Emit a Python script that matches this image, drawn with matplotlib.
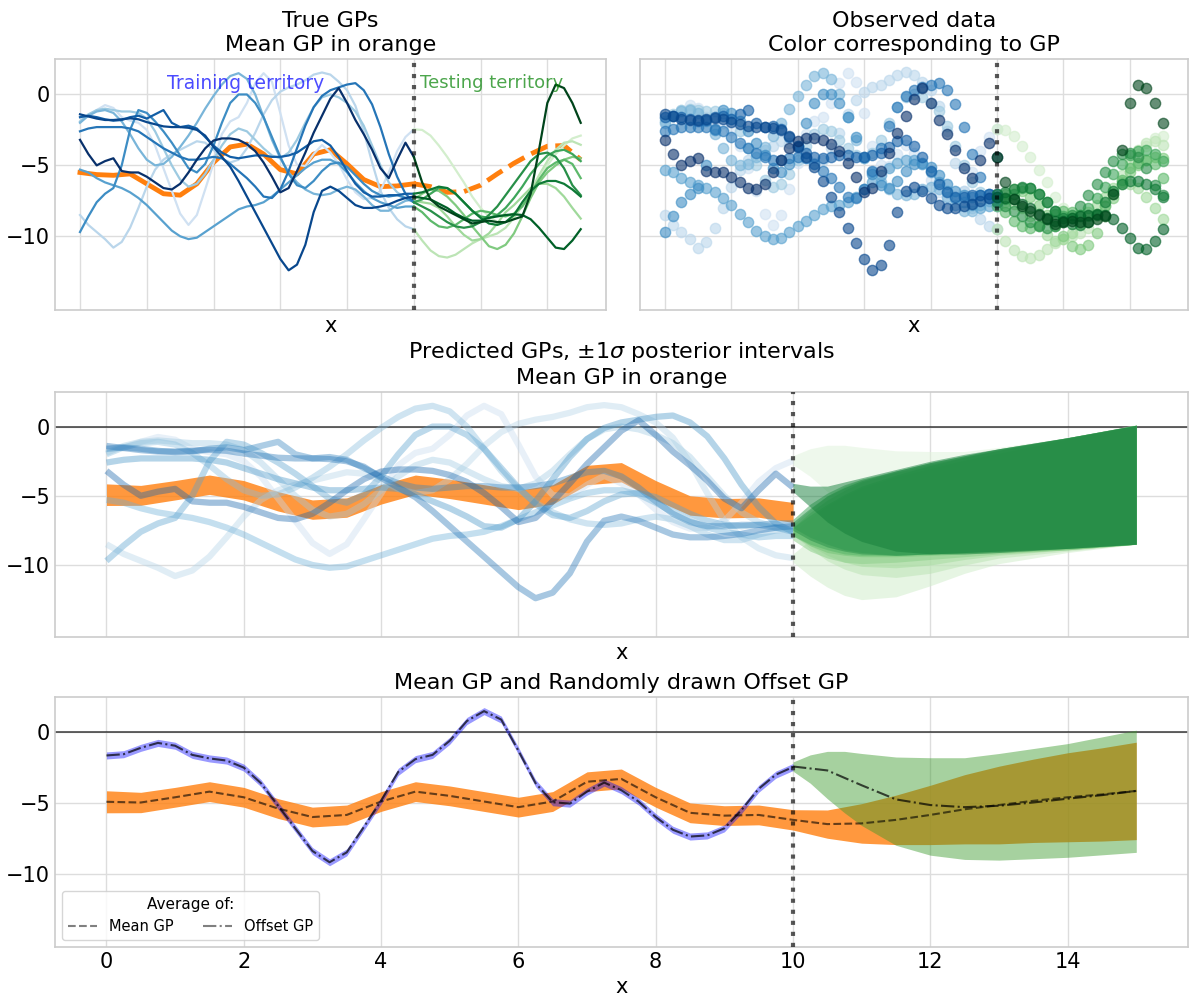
import numpy as np
import matplotlib
matplotlib.use("Agg")
import matplotlib.pyplot as plt
from matplotlib.lines import Line2D

# ---------------- data ----------------
x_train = np.arange(0, 10.001, 0.25)      # 41 sample positions, training territory
x_test = np.arange(10, 15.001, 0.25)      # 21 sample positions, testing territory
x_mean = np.arange(0, 15.001, 0.5)        # 31 sample positions for mean GP

# true GPs in training territory (index 0 = lightest, 9 = darkest)
gp0_train = [-1.64, -1.55, -1.1, -0.75, -0.95, -1.6, -1.85, -2.0, -2.5, -3.6, -5.2, -6.8, -8.4, -9.2, -8.5, -6.7,
             -4.85, -2.8, -1.9, -1.6, -0.6, 0.8, 1.5, 0.9, -1.3, -3.6, -4.95, -5.05, -4.2, -3.56, -4.1, -4.9,
             -6.0, -6.9, -7.38, -7.3, -6.8, -5.5, -4.0, -3.0, -2.46]
gp1_train = [-8.5, -9.2, -9.7, -10.2, -10.8, -10.4, -9.4, -8.0, -6.5, -5.3, -4.6, -4.2, -3.9, -3.6, -3.3, -3.4,
             -3.9, -4.5, -4.8, -4.6, -3.8, -2.7, -1.4, -0.4, 0.2, 0.5, 0.7, 1.0, 1.4, 1.55, 1.4, 0.9, 0.3,
             -0.8, -2.6, -4.8, -6.8, -8.0, -8.8, -9.3, -9.5]
gp2_train = [-1.9, -1.4, -1.1, -1.0, -1.1, -1.2, -1.2, -1.3, -1.7, -2.6, -3.8, -5.0, -6.0, -6.5, -6.3, -5.6,
             -4.6, -3.6, -2.8, -2.4, -2.6, -3.2, -3.8, -4.3, -4.5, -4.1, -3.2, -2.0, -0.9, -0.2, 0.0, -0.2,
             -0.6, -1.2, -2.2, -3.6, -5.0, -6.2, -6.9, -7.3, -7.5]
gp3_train = [-2.0, -1.5, -1.2, -1.1, -1.3, -1.9, -2.8, -3.8, -4.6, -5.0, -4.9, -4.4, -3.7, -2.9, -2.0, -1.0,
             -0.1, 0.7, 1.3, 1.5, 1.1, 0.0, -1.6, -3.2, -4.5, -5.5, -6.2, -6.7, -7.0, -7.1, -7.0, -6.7,
             -6.5, -6.7, -7.2, -7.8, -8.2, -8.2, -7.8, -7.5, -7.4]
gp4_train = [-5.3, -5.5, -5.9, -6.2, -6.4, -6.6, -6.9, -7.3, -7.8, -8.4, -9.0, -9.6, -10.0, -10.2, -10.1, -9.7,
             -9.3, -8.9, -8.5, -8.1, -7.9, -7.8, -7.6, -7.2, -6.7, -6.2, -5.7, -5.2, -4.8, -4.6, -4.6, -4.9,
             -5.5, -6.2, -6.8, -7.3, -7.6, -7.8, -8.0, -7.9, -7.9]
gp5_train = [-9.7, -8.6, -7.6, -7.0, -6.6, -5.0, -2.5, -1.1, -1.3, -1.9, -2.6, -3.4, -4.3, -5.2, -5.5, -4.9,
             -3.6, -2.0, -0.6, 0.0, 0.0, -0.6, -1.6, -3.0, -4.4, -5.6, -6.4, -6.6, -6.1, -5.4, -4.9, -4.8,
             -5.1, -5.7, -6.3, -6.8, -7.1, -7.2, -7.1, -7.3, -7.6]
gp6_train = [-2.6, -2.4, -2.3, -2.3, -2.3, -2.3, -2.4, -2.6, -3.0, -3.4, -3.8, -4.1, -4.4, -4.6, -4.6, -4.5,
             -4.4, -4.5, -4.9, -5.4, -5.9, -6.5, -7.2, -7.3, -6.7, -5.4, -3.8, -2.2, -0.9, -0.1, 0.3, 0.5,
             0.7, 0.8, 0.3, -0.7, -2.3, -4.2, -5.8, -7.0, -7.6]
gp7_train = [-1.6, -1.5, -1.6, -1.75, -1.85, -1.8, -1.6, -1.5, -1.7, -1.4, -1.1, -2.0, -2.3, -2.2, -2.4, -3.0,
             -3.6, -4.1, -4.4, -4.5, -4.4, -4.3, -4.3, -4.4, -4.4, -4.3, -4.1, -3.7, -3.3, -3.2, -3.6, -4.4,
             -5.4, -6.3, -6.9, -7.2, -7.2, -7.1, -7.1, -7.0, -7.0]
gp8_train = [-1.4, -1.55, -1.7, -1.8, -1.8, -1.75, -1.68, -1.75, -1.95, -2.1, -2.25, -2.3, -2.3, -2.35, -2.5, -2.9,
             -3.7, -4.4, -5.1, -6.1, -7.2, -8.3, -9.4, -10.5, -11.6, -12.4, -12.0, -10.6, -8.3, -6.8, -6.5, -6.8,
             -7.3, -7.8, -8.0, -8.0, -7.9, -7.75, -7.5, -7.3, -7.2]
gp9_train = [-3.2, -4.2, -5.0, -4.7, -4.5, -5.4, -5.5, -5.5, -5.8, -6.2, -6.6, -6.7, -6.3, -5.5, -4.6, -3.8,
             -3.25, -3.1, -3.1, -3.2, -3.5, -4.0, -4.8, -5.8, -6.9, -6.6, -5.4, -4.1, -2.7, -1.5, -0.3, 0.45,
             -0.6, -1.8, -2.8, -3.9, -5.2, -5.9, -4.6, -3.4, -4.4]

# true GPs in testing territory
gp0_test = [-2.46, -2.5, -2.9, -3.6, -4.4, -5.3, -6.2, -7.2, -8.0, -8.6, -9.0, -9.0, -8.6, -7.9, -7.0, -6.0, -5.0, -4.2, -3.6, -3.1, -2.9]
gp1_test = [-9.5, -10.3, -11.0, -11.4, -11.5, -11.3, -10.9, -10.5, -10.2, -10.0, -9.8, -9.4, -8.7, -7.8, -6.8, -5.7, -4.7, -3.9, -3.4, -3.3, -3.55]
gp2_test = [-7.5, -7.6, -7.7, -8.0, -8.6, -9.3, -9.9, -10.3, -10.2, -9.8, -9.1, -8.3, -7.8, -7.2, -6.6, -6.3, -6.3, -6.6, -7.2, -8.0, -8.75]
gp3_test = [-7.4, -7.0, -6.7, -6.8, -7.2, -7.8, -8.5, -9.3, -10.0, -10.7, -10.9, -10.6, -9.8, -8.6, -7.3, -6.2, -5.5, -5.0, -4.6, -4.4, -4.5]
gp4_test = [-7.9, -8.3, -8.9, -9.3, -9.4, -9.2, -8.8, -8.4, -8.2, -8.3, -8.5, -8.6, -8.4, -7.9, -7.0, -6.0, -5.2, -4.8, -4.6, -4.9, -5.9]
gp5_test = [-7.6, -7.4, -7.0, -6.6, -6.6, -7.0, -7.6, -8.2, -8.6, -8.7, -8.5, -8.0, -7.3, -6.5, -5.6, -4.9, -4.3, -4.0, -3.9, -4.2, -4.7]
gp6_test = [-7.6, -7.9, -8.2, -8.6, -9.0, -9.3, -9.4, -9.3, -9.0, -8.5, -7.9, -7.1, -6.3, -5.5, -4.7, -4.2, -4.1, -4.4, -5.2, -6.4, -7.1]
gp7_test = [-7.0, -6.9, -6.7, -6.5, -6.6, -7.0, -7.6, -8.2, -8.7, -9.1, -9.2, -9.0, -8.5, -7.6, -6.8, -6.3, -6.1, -6.1, -6.3, -6.7, -7.2]
gp8_test = [-7.2, -7.3, -7.4, -7.7, -8.0, -8.4, -8.7, -8.9, -8.9, -8.7, -8.6, -8.5, -8.45, -8.5, -8.8, -9.4, -10.1, -10.8, -10.9, -10.3, -9.5]
gp9_test = [-4.4, -6.2, -7.4, -7.9, -8.2, -8.5, -8.8, -9.1, -9.0, -8.9, -9.0, -9.0, -8.8, -8.6, -7.0, -3.9, -0.6, 0.7, 0.45, -0.6, -2.0]

# true mean GP
mean_true = [-5.5, -5.65, -5.7, -5.6, -6.3, -7.0, -7.1, -6.3, -4.8, -3.7, -3.5, -4.2, -5.3, -5.6, -4.2, -3.9,
             -4.9, -6.0, -6.5, -6.45, -6.3, -6.5, -6.9, -6.85, -6.4, -5.6, -4.85, -4.2, -3.65, -3.6, -4.6]

# posterior mean GP (average) and its 1-sigma half width
mean_post = [-4.92, -4.97, -4.6, -4.2, -4.6, -5.4, -6.0, -5.85, -4.9, -4.2, -4.5, -4.9, -5.3, -4.9, -3.5, -3.3,
             -4.6, -5.7, -5.9, -5.85, -6.2, -6.5, -6.45, -6.2, -5.85, -5.45, -5.15, -4.85, -4.6, -4.4, -4.15]
mean_sd = [0.78, 0.72, 0.7, 0.7, 0.7, 0.7, 0.7, 0.7, 0.7, 0.7, 0.7, 0.7, 0.7, 0.7, 0.7, 0.7,
           0.7, 0.7, 0.7, 0.7, 0.72, 1.0, 1.4, 1.75, 2.1, 2.45, 2.75, 2.95, 3.15, 3.3, 3.45]

# posterior 1-sigma intervals of the GPs in testing territory
x_band = [10, 10.25, 10.5, 10.75, 11, 11.5, 12, 12.5, 13, 14, 15]
band0_lo = [-2.75, -3.6, -4.7, -5.7, -6.6, -8.0, -8.7, -9.0, -9.05, -8.85, -8.5]
band0_hi = [-2.1, -1.6, -1.35, -1.35, -1.5, -1.75, -1.8, -1.8, -1.5, -0.8, 0.15]
band1_lo = [-9.8, -10.8, -11.6, -12.2, -12.5, -12.3, -11.5, -10.6, -9.9, -9.1, -8.5]
band1_hi = [-9.2, -8.2, -7.2, -6.3, -5.5, -4.3, -3.5, -2.8, -2.2, -1.0, 0.1]
band2_lo = [-7.8, -8.8, -9.7, -10.3, -10.7, -10.9, -10.6, -10.0, -9.5, -9.0, -8.5]
band2_hi = [-7.2, -6.4, -5.6, -5.0, -4.5, -3.8, -3.1, -2.5, -2.0, -0.9, 0.1]
band3_lo = [-7.7, -8.6, -9.3, -9.8, -10.1, -10.2, -10.0, -9.6, -9.3, -8.9, -8.5]
band3_hi = [-7.1, -6.0, -5.0, -4.3, -3.8, -3.3, -2.9, -2.4, -1.9, -0.9, 0.1]
band4_lo = [-8.2, -9.0, -9.5, -9.8, -9.9, -9.8, -9.6, -9.4, -9.2, -8.9, -8.5]
band4_hi = [-7.6, -6.6, -5.7, -5.0, -4.4, -3.6, -3.0, -2.4, -1.9, -0.9, 0.1]
band5_lo = [-7.9, -8.6, -9.1, -9.3, -9.4, -9.4, -9.3, -9.2, -9.1, -8.9, -8.5]
band5_hi = [-7.3, -6.2, -5.3, -4.6, -4.0, -3.3, -2.7, -2.2, -1.7, -0.8, 0.1]
band6_lo = [-7.9, -8.5, -8.9, -9.2, -9.3, -9.3, -9.2, -9.1, -9.0, -8.8, -8.5]
band6_hi = [-7.3, -6.4, -5.6, -4.9, -4.3, -3.5, -2.8, -2.2, -1.7, -0.8, 0.1]
band7_lo = [-7.3, -8.0, -8.5, -8.9, -9.1, -9.3, -9.2, -9.1, -9.0, -8.8, -8.5]
band7_hi = [-6.7, -5.6, -4.8, -4.2, -3.8, -3.2, -2.6, -2.1, -1.6, -0.8, 0.1]
band8_lo = [-7.5, -8.2, -8.7, -9.0, -9.2, -9.3, -9.2, -9.1, -9.0, -8.8, -8.5]
band8_hi = [-6.9, -5.9, -5.0, -4.4, -3.9, -3.2, -2.6, -2.1, -1.6, -0.8, 0.1]
band9_lo = [-4.7, -5.8, -6.9, -7.7, -8.3, -9.0, -9.2, -9.2, -9.1, -8.8, -8.5]
band9_hi = [-4.1, -4.3, -4.3, -4.0, -3.7, -3.1, -2.5, -2.0, -1.6, -0.8, 0.1]

# randomly drawn offset GP (the lightest one), training interval half width
offset_sd = 0.25
x_off_test = [10, 10.5, 11, 11.5, 12, 12.5, 13, 13.5, 14, 14.5, 15]
offset_test = [-2.42, -2.7, -3.75, -4.75, -5.15, -5.3, -5.2, -4.97, -4.7, -4.45, -4.15]

train_gps = [gp0_train, gp1_train, gp2_train, gp3_train, gp4_train,
             gp5_train, gp6_train, gp7_train, gp8_train, gp9_train]
test_gps = [gp0_test, gp1_test, gp2_test, gp3_test, gp4_test,
            gp5_test, gp6_test, gp7_test, gp8_test, gp9_test]
bands_lo = [band0_lo, band1_lo, band2_lo, band3_lo, band4_lo,
            band5_lo, band6_lo, band7_lo, band8_lo, band9_lo]
bands_hi = [band0_hi, band1_hi, band2_hi, band3_hi, band4_hi,
            band5_hi, band6_hi, band7_hi, band8_hi, band9_hi]

split_x = 10

# ---------------- style ----------------
plt.rcParams.update({
    "font.family": ["DejaVu Sans"],
    "axes.edgecolor": "#cccccc",
    "axes.linewidth": 1.2,
    "axes.grid": True,
    "grid.color": "#dddddd",
    "grid.linewidth": 1.0,
    "axes.titlesize": 16,
    "axes.labelsize": 15,
    "xtick.labelsize": 15,
    "ytick.labelsize": 15,
    "xtick.major.size": 0,
    "ytick.major.size": 0,
    "axes.axisbelow": True,
    "axes.unicode_minus": True,
})

n = len(train_gps)
blues = plt.get_cmap("Blues")(np.linspace(0.2, 1.0, n))
greens = plt.get_cmap("Greens")(np.linspace(0.2, 1.0, n))
blues_pred = plt.get_cmap("Blues")(np.linspace(0.25, 0.8, n))
greens_pred = plt.get_cmap("Greens")(np.linspace(0.15, 0.8, n))
orange = "#ff7f0e"

fig = plt.figure(figsize=(12, 10.02), dpi=100)
ax_true = fig.add_axes([0.0458, 0.6906, 0.459, 0.2505])
ax_data = fig.add_axes([0.5333, 0.6906, 0.4567, 0.2505], sharex=ax_true, sharey=ax_true)
ax_pred = fig.add_axes([0.0458, 0.3643, 0.944, 0.2445], sharex=ax_true, sharey=ax_true)
ax_sub = fig.add_axes([0.0458, 0.0549, 0.944, 0.2495], sharex=ax_true, sharey=ax_true)

x_mean_arr = np.asarray(x_mean)
train_mask = x_mean_arr <= split_x
test_mask = x_mean_arr >= split_x
mean_true_arr = np.asarray(mean_true)
mean_post_arr = np.asarray(mean_post)
mean_sd_arr = np.asarray(mean_sd)

# ---- True GPs ----
ax = ax_true
ax.plot(x_mean_arr[train_mask], mean_true_arr[train_mask], color=orange, lw=3.5, zorder=2)
ax.plot(x_mean_arr[test_mask], mean_true_arr[test_mask], color=orange, lw=3.5, ls="--", zorder=2)
for i in range(n):
    ax.plot(x_train, train_gps[i], color=blues[i], lw=1.6, zorder=3)
    ax.plot(x_test, test_gps[i], color=greens[i], lw=1.6, zorder=3)
ax.axvline(split_x, color="k", alpha=0.65, ls=":", lw=3, zorder=5)
ax.text(2.6, 0.8, "Training territory", color="blue", alpha=0.7, fontsize=13.5, va="center")
ax.text(10.2, 0.8, "Testing territory", color="green", alpha=0.7, fontsize=13, va="center")
ax.set_title("True GPs\nMean GP in orange")
ax.set_xlabel("x")

# ---- Observed data ----
ax = ax_data
for i in range(n):
    ax.scatter(x_train, train_gps[i], color=blues[i], alpha=0.6, s=55, zorder=3)
    ax.scatter(x_test, test_gps[i], color=greens[i], alpha=0.6, s=55, zorder=3)
ax.axvline(split_x, color="k", alpha=0.65, ls=":", lw=3, zorder=5)
ax.set_title("Observed data\nColor corresponding to GP")
ax.set_xlabel("x")

# ---- Predicted GPs ----
ax = ax_pred
ax.axhline(0, color="k", lw=1.2, alpha=0.7, zorder=1)
ax.fill_between(x_mean_arr[train_mask], (mean_post_arr - mean_sd_arr)[train_mask],
                (mean_post_arr + mean_sd_arr)[train_mask], color=orange, alpha=0.8, lw=0, zorder=2)
for i in range(n):
    ax.plot(x_train, train_gps[i], color=blues_pred[i], lw=4.5, alpha=0.4, zorder=3,
            solid_capstyle="butt")
for i in range(n):
    ax.fill_between(x_band, bands_lo[i], bands_hi[i], color=greens_pred[i], alpha=0.5, lw=0, zorder=3)
ax.axvline(split_x, color="k", alpha=0.65, ls=":", lw=3, zorder=5)
ax.set_title("Predicted GPs, $\\pm 1\\sigma$ posterior intervals\nMean GP in orange")
ax.set_xlabel("x")

# ---- Mean GP and offset GP ----
ax = ax_sub
ax.axhline(0, color="k", lw=1.2, alpha=0.7, zorder=1)
ax.fill_between(x_mean_arr, mean_post_arr - mean_sd_arr, mean_post_arr + mean_sd_arr,
                color=orange, alpha=0.8, lw=0, zorder=2)
ax.plot(x_mean_arr, mean_post_arr, color="k", ls="--", lw=1.5, alpha=0.6, zorder=4)
off_arr = np.asarray(gp0_train)
ax.fill_between(x_train, off_arr - offset_sd, off_arr + offset_sd, color="blue", alpha=0.4, lw=0, zorder=3)
ax.plot(x_train, off_arr, color="k", ls="-.", lw=1.5, alpha=0.7, zorder=4)
ax.fill_between(x_band, band0_lo, band0_hi, color="#3a9a2a", alpha=0.45, lw=0, zorder=3)
ax.plot(x_off_test, offset_test, color="k", ls="-.", lw=1.5, alpha=0.7, zorder=4)
ax.axvline(split_x, color="k", alpha=0.65, ls=":", lw=3, zorder=5)
ax.set_title("Mean GP and Randomly drawn Offset GP")
ax.set_xlabel("x")
handles = [Line2D([], [], color="gray", ls="--", lw=1.5, label="Mean GP"),
           Line2D([], [], color="gray", ls="-.", lw=1.5, label="Offset GP")]
ax.legend(handles=handles, title="Average of:", loc="lower left", ncol=2,
          fontsize=10.5, title_fontsize=11, frameon=True)

# ---- axes setup ----
ax_true.set_xlim(-0.75, 15.75)
ax_true.set_ylim(-15.2, 2.5)
ax_true.set_xticks([0, 2, 4, 6, 8, 10, 12, 14])
ax_true.set_yticks([-10, -5, 0])
for a in (ax_true, ax_data, ax_pred):
    plt.setp(a.get_xticklabels(), visible=False)
plt.setp(ax_data.get_yticklabels(), visible=False)
for a in (ax_true, ax_data, ax_pred, ax_sub):
    a.tick_params(length=0)
    for s in a.spines.values():
        s.set_color("#cccccc")

fig.savefig("out.png", dpi=100)
